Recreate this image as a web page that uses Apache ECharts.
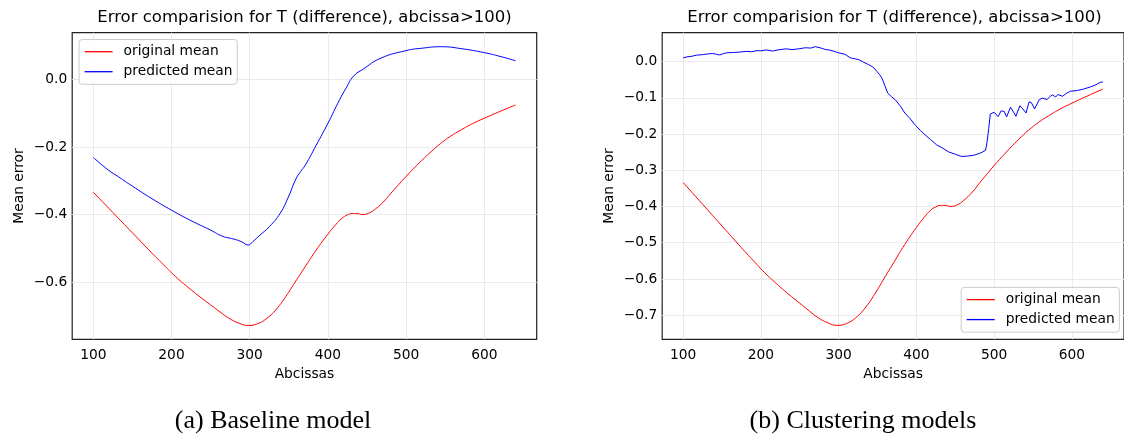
<!DOCTYPE html>
<html><head><meta charset="utf-8">
<script src="https://cdn.jsdelivr.net/npm/echarts@6/dist/echarts.min.js"></script>
<style>html,body{margin:0;padding:0;background:#fff}#c{width:1124px;height:436px}</style>
</head><body><div id="c"></div>
<script>
// ---- data ----
const titleText = 'Error comparision for T (difference), abcissa>100)';
const xTicks = [100, 200, 300, 400, 500, 600];
const yTicksLeft = [0.0, -0.2, -0.4, -0.6];
const yTicksRight = [0.0, -0.1, -0.2, -0.3, -0.4, -0.5, -0.6, -0.7];
const seriesNames = ['original mean', 'predicted mean'];
const captions = ['(a) Baseline model', '(b) Clustering models'];

// original mean (same curve in both panels)
const origX = [100,125,150,175,190,205,220,235,250,262,273,286,298,310,322,334,346,358,371,385,400,410,418,425,431,437,444,452,461,472,482,491,500,510,520,532,544,557,570,585,600,620,640];
const origY = [-0.334,-0.394,-0.454,-0.514,-0.549,-0.583,-0.613,-0.641,-0.667,-0.688,-0.706,-0.721,-0.728,-0.723,-0.707,-0.680,-0.643,-0.600,-0.554,-0.505,-0.458,-0.430,-0.411,-0.401,-0.397,-0.397,-0.400,-0.396,-0.383,-0.360,-0.333,-0.310,-0.287,-0.263,-0.240,-0.214,-0.190,-0.168,-0.150,-0.131,-0.115,-0.095,-0.076];

// predicted mean, baseline model
const baseX = [100,119,132,150,175,200,225,250,265,275,282,290,298,304,312,325,339,350,359,365,371,385,400,415,423,433,445,467,500,520,545,570,600,620,640];
const baseY = [-0.231,-0.268,-0.288,-0.316,-0.353,-0.387,-0.418,-0.446,-0.464,-0.470,-0.474,-0.481,-0.490,-0.480,-0.463,-0.436,-0.396,-0.345,-0.295,-0.273,-0.254,-0.195,-0.130,-0.060,-0.027,0.010,0.030,0.062,0.085,0.092,0.0965,0.091,0.079,0.068,0.055];

// predicted mean, clustering models
const clustX = [100,105,110,117,125,132,138,143,147,152,156,165,173,181,188,195,200,207,215,222,232,240,249,257,264,270,276,283,290,300,308,315,320,326,332,338,344,349,353,356,360,363,368,373,380,385,392,399,405,411,418,426,433,441,450,458,466,475,483,489,491,493,495,500,502,505,509,513,516,521,525,528,533,537,541,545,548,552,558,562,568,572,575,579,582,588,592,598,607,615,624,630,637,640];
const clustY = [0.010,0.013,0.014,0.0175,0.019,0.021,0.022,0.020,0.018,0.022,0.024,0.025,0.026,0.028,0.027,0.030,0.0295,0.032,0.029,0.032,0.035,0.033,0.035,0.038,0.037,0.041,0.038,0.033,0.031,0.024,0.020,0.010,0.008,0.005,-0.002,-0.008,-0.015,-0.027,-0.037,-0.047,-0.070,-0.087,-0.097,-0.106,-0.125,-0.142,-0.158,-0.177,-0.190,-0.202,-0.215,-0.230,-0.238,-0.249,-0.256,-0.262,-0.261,-0.258,-0.252,-0.245,-0.220,-0.185,-0.145,-0.140,-0.140,-0.152,-0.136,-0.138,-0.153,-0.126,-0.140,-0.151,-0.122,-0.131,-0.142,-0.111,-0.114,-0.131,-0.105,-0.101,-0.105,-0.096,-0.092,-0.098,-0.091,-0.096,-0.089,-0.082,-0.080,-0.076,-0.070,-0.065,-0.057,-0.057];

const zip = (xs, ys) => xs.map((x, i) => [x, ys[i]]);

// ---- styling ----
const FONT = 'DejaVu Sans';
const RED = '#ff0000', BLUE = '#0000ff';
const GRID_LINE = '#ebebeb';
const panels = [
  {left: 72.2, yMin: -0.769, yMax: 0.138, yTicks: yTicksLeft},
  {left: 662.2, yMin: -0.7665, yMax: 0.0795, yTicks: yTicksRight}
];
const PW = 464.5, PT = 32.7, PH = 306.6;
const fmtY = v => (v < -1e-9 ? '\u2212' : '') + Math.abs(v).toFixed(1);

const chart = echarts.init(document.getElementById('c'), null, {renderer: 'canvas'});
const option = {
  animation: false,
  backgroundColor: '#fff',
  textStyle: {fontFamily: FONT},
  title: panels.map(p => ({
    text: titleText, left: p.left + PW / 2, top: 9, textAlign: 'center', padding: 0,
    textStyle: {fontFamily: FONT, fontSize: 16.5, fontWeight: 'normal', color: '#000'}
  })),
  grid: panels.map(p => ({
    left: p.left, top: PT, width: PW, height: PH, show: true,
    borderColor: '#222', borderWidth: 1.2, backgroundColor: 'transparent', containLabel: false
  })),
  xAxis: panels.map((p, i) => ({
    type: 'value', gridIndex: i, min: 73, max: 667,
    name: 'Abcissas', nameLocation: 'middle', nameGap: 27,
    nameTextStyle: {fontFamily: FONT, fontSize: 13.8, color: '#000'},
    axisLine: {show: false}, axisTick: {show: false, customValues: xTicks},
    axisLabel: {customValues: xTicks, fontFamily: FONT, fontSize: 13.8, color: '#000', margin: 9},
    splitLine: {show: true, lineStyle: {color: GRID_LINE, width: 1}}
  })),
  yAxis: panels.map((p, i) => ({
    type: 'value', gridIndex: i, min: p.yMin, max: p.yMax,
    name: 'Mean error', nameLocation: 'middle', nameGap: 46, nameRotate: 90,
    nameTextStyle: {fontFamily: FONT, fontSize: 13.8, color: '#000'},
    axisLine: {show: false}, axisTick: {show: false, customValues: p.yTicks},
    axisLabel: {customValues: p.yTicks, formatter: fmtY, fontFamily: FONT, fontSize: 13.8, color: '#000', margin: 5},
    splitLine: {show: true, lineStyle: {color: GRID_LINE, width: 1}}
  })),
  legend: [
    {left: 79.1, top: 39.5},
    {left: 961.2, top: 287.4}
  ].map(pos => ({
    data: seriesNames, orient: 'vertical', left: pos.left, top: pos.top,
    icon: 'rect', itemWidth: 28, itemHeight: 1.3, itemGap: 4,
    padding: [4.2, 4.7, 4.6, 5.5],
    backgroundColor: 'rgba(255,255,255,0.8)', borderColor: '#cccccc', borderWidth: 1, borderRadius: 3,
    selectedMode: false,
    textStyle: {fontFamily: FONT, fontSize: 13.8, color: '#000', lineHeight: 16, padding: [0, 0, 0, 6]}
  })),
  series: [
    {name: seriesNames[0], type: 'line', xAxisIndex: 0, yAxisIndex: 0, data: zip(origX, origY),
      showSymbol: false, smooth: 0.5, lineStyle: {color: RED, width: 1}, itemStyle: {color: RED}},
    {name: seriesNames[1], type: 'line', xAxisIndex: 0, yAxisIndex: 0, data: zip(baseX, baseY),
      showSymbol: false, smooth: 0.5, lineStyle: {color: BLUE, width: 1}, itemStyle: {color: BLUE}},
    {name: seriesNames[0], type: 'line', xAxisIndex: 1, yAxisIndex: 1, data: zip(origX, origY),
      showSymbol: false, smooth: 0.5, lineStyle: {color: RED, width: 1}, itemStyle: {color: RED}},
    {name: seriesNames[1], type: 'line', xAxisIndex: 1, yAxisIndex: 1, data: zip(clustX, clustY),
      showSymbol: false, smooth: false, lineStyle: {color: BLUE, width: 1}, itemStyle: {color: BLUE}}
  ],
  graphic: [
    {type: 'text', style: {text: captions[0], x: 273, y: 421, align: 'center', verticalAlign: 'middle',
      font: '26px "Liberation Serif"', fill: '#000'}},
    {type: 'text', style: {text: captions[1], x: 863, y: 421, align: 'center', verticalAlign: 'middle',
      font: '26px "Liberation Serif"', fill: '#000'}}
  ]
};
chart.setOption(option);
</script>
</body></html>
